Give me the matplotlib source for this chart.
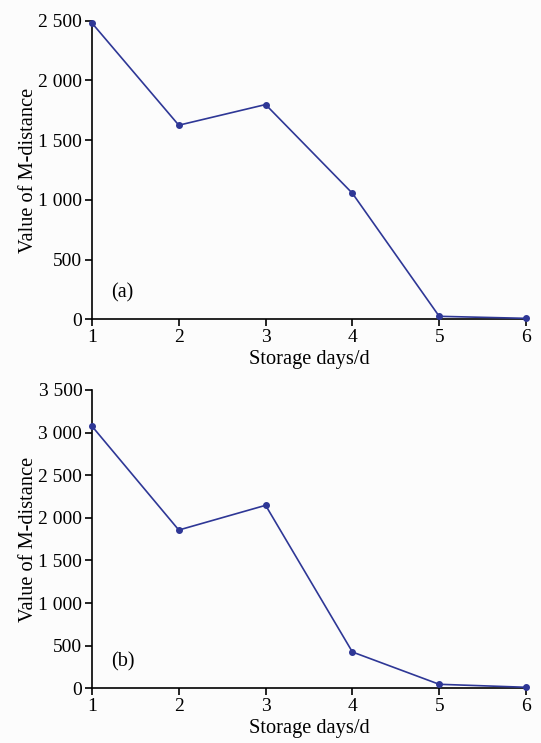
import matplotlib
matplotlib.use("Agg")
import matplotlib.pyplot as plt
from matplotlib.ticker import FuncFormatter

plt.rcParams['font.family'] = ['Liberation Serif', 'DejaVu Serif']

days = [1, 2, 3, 4, 5, 6]
values_a = [2480, 1625, 1798, 1055, 25, 8]
values_b = [3075, 1857, 2147, 426, 47, 12]
yticks_a = [0, 500, 1000, 1500, 2000, 2500]
yticks_b = [0, 500, 1000, 1500, 2000, 2500, 3000, 3500]
labels = ["(a)", "(b)"]

color = "#2e3796"
fig = plt.figure(figsize=(5.41, 7.43), dpi=100)
fig.patch.set_facecolor("#fcfcfc")

def fmt(v, pos):
    v = int(round(v))
    return f"{v:,}".replace(",", " ")

axes_rects = [
    [92/541, 1-319.3/743, (526-92)/541, (319.3-20.7)/743],
    [92/541, 1-688.3/743, (526-92)/541, (688.3-390)/743],
]
for rect, vals, yt, lab in zip(axes_rects, [values_a, values_b], [yticks_a, yticks_b], labels):
    ax = fig.add_axes(rect)
    ax.set_facecolor("#fcfcfc")
    ax.plot(days, vals, color=color, lw=1.2, marker='o', ms=4, clip_on=False, zorder=3)
    ax.set_xlim(1, 6)
    ax.set_ylim(yt[0], yt[-1])
    ax.set_yticks(yt)
    ax.set_xticks(days)
    ax.yaxis.set_major_formatter(FuncFormatter(fmt))
    for s in ["top", "right"]:
        ax.spines[s].set_visible(False)
    for s in ["left", "bottom"]:
        ax.spines[s].set_linewidth(1.2)
    ax.tick_params(direction='out', length=5, width=1.2, labelsize=14, pad=2)
    ax.set_xlabel("Storage days/d", fontsize=14.7, labelpad=3)
    ax.set_ylabel("Value of M-distance", fontsize=14.7, labelpad=0)
    ax.text(0.07, 0.09, lab, transform=ax.transAxes, fontsize=14.5, ha='center', va='center')

fig.savefig("out.png", dpi=100, facecolor=fig.get_facecolor())
